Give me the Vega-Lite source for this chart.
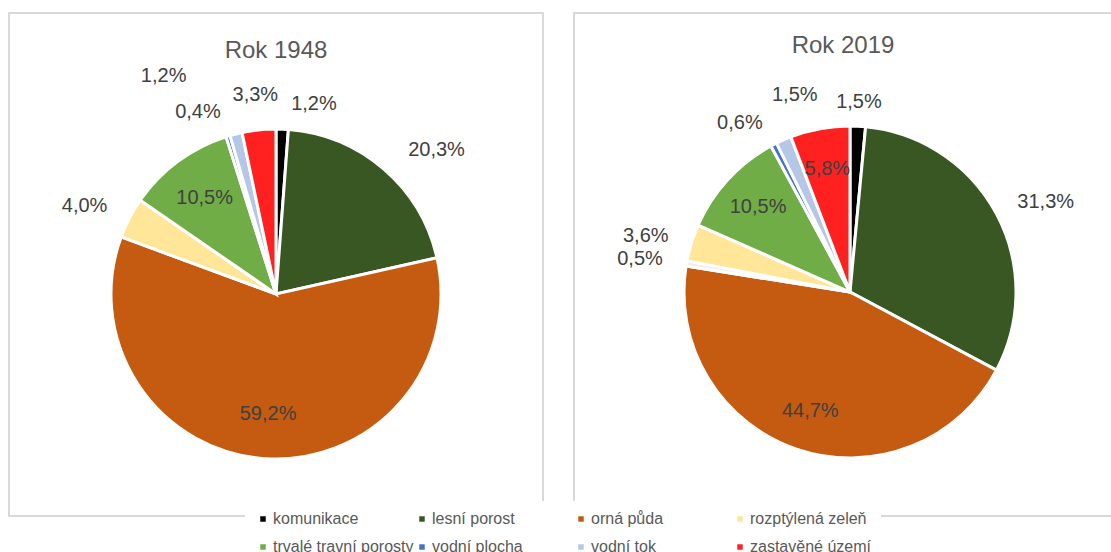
{
  "$schema": "https://vega.github.io/schema/vega-lite/v6.json",
  "background": "white",
  "padding": {"left": 8, "top": 12, "right": 0, "bottom": 0},
  "data": {"values": [
    {"year": 1948, "idx": 1, "category": "komunikace", "share": 0.012},
    {"year": 1948, "idx": 2, "category": "lesní porost", "share": 0.203},
    {"year": 1948, "idx": 3, "category": "orná půda", "share": 0.592},
    {"year": 1948, "idx": 5, "category": "rozptýlená zeleň", "share": 0.040},
    {"year": 1948, "idx": 6, "category": "trvalé travní porosty", "share": 0.105},
    {"year": 1948, "idx": 7, "category": "vodní plocha", "share": 0.004},
    {"year": 1948, "idx": 8, "category": "vodní tok", "share": 0.012},
    {"year": 1948, "idx": 9, "category": "zastavěné území", "share": 0.033},
    {"year": 2019, "idx": 1, "category": "komunikace", "share": 0.015},
    {"year": 2019, "idx": 2, "category": "lesní porost", "share": 0.313},
    {"year": 2019, "idx": 3, "category": "orná půda", "share": 0.447},
    {"year": 2019, "idx": 4, "category": "ostatní", "share": 0.005},
    {"year": 2019, "idx": 5, "category": "rozptýlená zeleň", "share": 0.036},
    {"year": 2019, "idx": 6, "category": "trvalé travní porosty", "share": 0.105},
    {"year": 2019, "idx": 7, "category": "vodní plocha", "share": 0.006},
    {"year": 2019, "idx": 8, "category": "vodní tok", "share": 0.015},
    {"year": 2019, "idx": 9, "category": "zastavěné území", "share": 0.058}
  ]},
  "spacing": 29,
  "hconcat": [
    {
      "width": 534,
      "height": 503,
      "view": {"stroke": "#D9D9D9", "strokeWidth": 2, "fill": null},
      "title": {"text": "Rok 1948", "offset": -50, "frame": "group"},
      "transform": [{"filter": "datum.year == 1948"}],
      "encoding": {
        "theta": {"field": "share", "type": "quantitative", "stack": "normalize"},
        "order": {"field": "idx", "type": "quantitative"}
      },
      "layer": [
        {
          "mark": {"type": "arc", "outerRadius": 165, "stroke": "white", "strokeWidth": 3, "x": 267, "y": 281},
          "encoding": {
            "color": {
              "field": "category", "type": "nominal",
              "scale": {
                "domain": ["komunikace", "lesní porost", "orná půda", "ostatní", "rozptýlená zeleň", "trvalé travní porosty", "vodní plocha", "vodní tok", "zastavěné území"],
                "range": ["#000000", "#385723", "#C55A11", "#EDEDED", "#FFE699", "#70AD47", "#4472C4", "#B4C7E7", "#FF2020"]
              },
              "legend": {
                "orient": "none", "legendX": 236, "legendY": 488,
                "direction": "horizontal", "columns": 4, "gridAlign": "all",
                "values": ["komunikace", "lesní porost", "orná půda", "rozptýlená zeleň", "trvalé travní porosty", "vodní plocha", "vodní tok", "zastavěné území"],
                "title": null, "symbolType": "square", "symbolSize": 30, "symbolStrokeWidth": 0,
                "labelFontSize": 16, "labelFont": "Liberation Sans", "labelColor": "#595959", "labelLimit": 300, "labelOffset": 2,
                "fillColor": "white", "padding": 10, "columnPadding": -9, "rowPadding": 12
              }
            }
          }
        },
        {
          "mark": {"type": "text", "radius": 120, "fontSize": 20, "font": "Liberation Sans", "fill": "#404040", "align": "center", "baseline": "middle", "x": 267, "y": 281},
          "encoding": {
            "text": {"condition": {"test": "datum.share > 0.05 && datum.category !== 'lesní porost'", "field": "share", "type": "quantitative", "format": ".1%"}, "value": ""}
          }
        },
        {
          "mark": {"type": "text", "radius": 190, "dx": 8, "fontSize": 20, "font": "Liberation Sans", "fill": "#404040", "align": "left", "baseline": "middle", "x": 267, "y": 281},
          "encoding": {
            "text": {"condition": {"test": "datum.category === 'komunikace' || datum.category === 'lesní porost'", "field": "share", "type": "quantitative", "format": ".1%"}, "value": ""}
          }
        },
        {
          "mark": {"type": "text", "radius": 190, "fontSize": 20, "font": "Liberation Sans", "fill": "#404040", "align": "right", "baseline": "middle", "x": 267, "y": 281},
          "encoding": {
            "text": {"condition": {"test": "datum.category === 'rozptýlená zeleň' || datum.category === 'vodní plocha' || datum.category === 'ostatní'", "field": "share", "type": "quantitative", "format": ".1%"}, "value": ""}
          }
        },
        {
          "mark": {"type": "text", "radius": 200, "fontSize": 20, "font": "Liberation Sans", "fill": "#404040", "align": "center", "baseline": "middle", "x": 267, "y": 281},
          "encoding": {
            "text": {"condition": {"test": "datum.category === 'zastavěné území' && datum.share <= 0.05", "field": "share", "type": "quantitative", "format": ".1%"}, "value": ""}
          }
        },
        {
          "mark": {"type": "text", "radius": 225, "dx": -35, "fontSize": 20, "font": "Liberation Sans", "fill": "#404040", "align": "right", "baseline": "middle", "x": 267, "y": 281},
          "encoding": {
            "text": {"condition": {"test": "datum.category === 'vodní tok'", "field": "share", "type": "quantitative", "format": ".1%"}, "value": ""}
          }
        }
      ]
    },
    {
      "width": 538,
      "height": 503,
      "view": {"stroke": "#D9D9D9", "strokeWidth": 2, "fill": null},
      "title": {"text": "Rok 2019", "offset": -45, "frame": "group"},
      "transform": [{"filter": "datum.year == 2019"}],
      "encoding": {
        "theta": {"field": "share", "type": "quantitative", "stack": "normalize"},
        "order": {"field": "idx", "type": "quantitative"}
      },
      "layer": [
        {
          "mark": {"type": "arc", "outerRadius": 166, "stroke": "white", "strokeWidth": 3, "x": 276, "y": 279},
          "encoding": {
            "color": {"field": "category", "type": "nominal"}
          }
        },
        {
          "mark": {"type": "text", "radius": 125, "fontSize": 20, "font": "Liberation Sans", "fill": "#404040", "align": "center", "baseline": "middle", "x": 276, "y": 279},
          "encoding": {
            "text": {"condition": {"test": "datum.share > 0.05 && datum.category !== 'lesní porost'", "field": "share", "type": "quantitative", "format": ".1%"}, "value": ""}
          }
        },
        {
          "mark": {"type": "text", "radius": 190, "fontSize": 20, "font": "Liberation Sans", "fill": "#404040", "align": "left", "baseline": "middle", "x": 276, "y": 279},
          "encoding": {
            "text": {"condition": {"test": "datum.category === 'lesní porost'", "field": "share", "type": "quantitative", "format": ".1%"}, "value": ""}
          }
        },
        {
          "mark": {"type": "text", "radius": 190, "fontSize": 20, "font": "Liberation Sans", "fill": "#404040", "align": "center", "baseline": "middle", "x": 276, "y": 279},
          "encoding": {
            "text": {"condition": {"test": "datum.category === 'komunikace'", "field": "share", "type": "quantitative", "format": ".1%"}, "value": ""}
          }
        },
        {
          "mark": {"type": "text", "radius": 190, "fontSize": 20, "font": "Liberation Sans", "fill": "#404040", "align": "right", "baseline": "middle", "x": 276, "y": 279},
          "encoding": {
            "text": {"condition": {"test": "datum.category === 'rozptýlená zeleň' || datum.category === 'vodní plocha' || datum.category === 'ostatní'", "field": "share", "type": "quantitative", "format": ".1%"}, "value": ""}
          }
        },
        {
          "mark": {"type": "text", "radius": 215, "dx": 8, "fontSize": 20, "font": "Liberation Sans", "fill": "#404040", "align": "left", "baseline": "middle", "x": 276, "y": 279},
          "encoding": {
            "text": {"condition": {"test": "datum.category === 'vodní tok'", "field": "share", "type": "quantitative", "format": ".1%"}, "value": ""}
          }
        }
      ]
    }
  ],
  "resolve": {"scale": {"color": "shared", "theta": "independent"}},
  "config": {
    "locale": {"number": {"decimal": ",", "thousands": " ", "grouping": [3], "currency": ["", " Kč"]}},
    "view": {"stroke": "#D9D9D9", "strokeWidth": 2},
    "title": {"fontSize": 24, "font": "Liberation Sans", "fontWeight": "normal", "color": "#595959", "anchor": "middle"},
    "text": {"font": "Liberation Sans"}
  }
}
